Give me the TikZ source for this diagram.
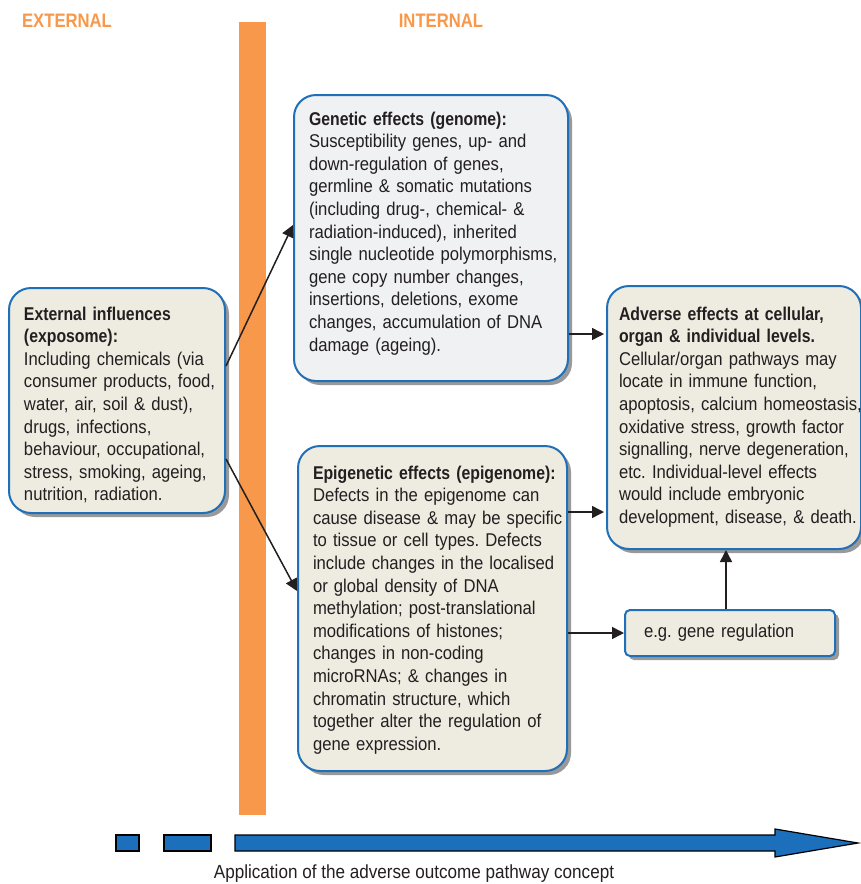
\documentclass[tikz,border=0pt]{standalone}
\usepackage{fontspec}
\setmainfont{Liberation Sans}[FakeStretch=0.9, BoldFeatures={FakeStretch=0.855}]
\usetikzlibrary{arrows.meta, positioning, shadows}

\definecolor{barorange}{HTML}{F7984A}
\definecolor{boxblue}{HTML}{1F70B8}
\definecolor{boxbeige}{HTML}{EEEBE1}
\definecolor{boxgrey}{HTML}{F0F1F3}
\definecolor{inkgrey}{HTML}{231F20}
\definecolor{pathblue}{HTML}{1C6FBA}

\tikzset{
  effectbox/.style={draw=boxblue, line width=2pt, rounded corners=22pt,
    fill=boxbeige, text=inkgrey, anchor=north west, align=left,
    inner xsep=0pt, inner ysep=0pt,
    font=\fontsize{18.5}{22.6}\selectfont,
    execute at begin node={\frenchspacing\leftskip=15pt\rightskip=-20pt plus 1fil\relax},
    drop shadow={shadow xshift=4pt, shadow yshift=-4pt, fill=black!40, opacity=1}},
  flow/.style={-{Triangle[length=12pt,width=12pt]}, line width=1.5pt, draw=inkgrey, fill=inkgrey},
  sidelabel/.style={text=barorange, font=\fontsize{19.5}{20}\bfseries\selectfont}
}

\begin{document}
\begin{tikzpicture}[x=1pt, y=-1pt]
\useasboundingbox (0,0) rectangle (861,884);

% Headings and the border between outside and inside
\node [sidelabel] (external) at (67,21) {EXTERNAL};
\node [sidelabel] (internal) at (441,21) {INTERNAL};
\fill [barorange] (239,22) rectangle (266,815);

% The boxes
\node [effectbox, text width=216pt, text height=32pt, text depth=193pt] (ext) at (8,287)
  {{\bfseries External influences\\(exposome):}\\
   Including chemicals (via\\consumer products, food,\\water, air, soil \& dust),\\
   drugs, infections,\\behaviour, occupational,\\stress, smoking, ageing,\\
   nutrition, radiation.};

\node [effectbox, fill=boxgrey, text width=274pt, text height=30pt, text depth=256pt] (gen) at (293,94)
  {{\bfseries Genetic effects (genome):}\\
   Susceptibility genes, up- and\\down-regulation of genes,\\
   germline \& somatic mutations\\(including drug-, chemical- \&\\
   radiation-induced), inherited\\single nucleotide polymorphisms,\\
   gene copy number changes,\\insertions, deletions, exome\\
   changes, accumulation of DNA\\damage (ageing).};

\node [effectbox, text width=269pt, text height=33pt, text depth=292pt] (epi) at (297,445)
  {{\bfseries Epigenetic effects (epigenome):}\\
   Defects in the epigenome can\\cause disease \& may be specific\\
   to tissue or cell types. Defects\\include changes in the localised\\
   or global density of DNA\\methylation; post-translational\\
   modifications of histones;\\changes in non-coding\\
   microRNAs; \& changes in\\chromatin structure, which\\
   together alter the regulation of\\gene expression.};

\node [effectbox, text width=254pt, text height=34pt, text depth=229pt,
  execute at begin node={\frenchspacing\leftskip=12pt\rightskip=-20pt plus 1fil\relax}] (adv) at (606,285)
  {{\bfseries Adverse effects at cellular,\\organ \& individual levels.}\\
   Cellular/organ pathways may\\locate in immune function,\\
   apoptosis, calcium homeostasis,\\oxidative stress, growth factor\\
   signalling, nerve degeneration,\\etc. Individual-level effects\\
   would include embryonic\\development, disease, \& death.};

\node [effectbox, rounded corners=5pt, text width=210pt, text height=27pt, text depth=19pt,
  execute at begin node={\leftskip=19pt\rightskip=0pt plus 1fil\relax}] (reg) at (624,609)
  {e.g. gene regulation};

% Connectors
\draw [flow] ([yshift=34.5pt]ext.east) -- ([yshift=13pt]gen.west);
\draw [flow] ([yshift=-58.5pt]ext.east) -- ([yshift=17.5pt]epi.west);
\coordinate (genout) at ([yshift=-96pt]gen.east);
\draw [flow, shorten >=2pt] (genout) -- (genout -| adv.west);
\coordinate (epiout) at ([yshift=96.5pt]epi.east);
\draw [flow, shorten >=2pt] (epiout) -- (epiout -| adv.west);
\draw [flow] (epi.east |- reg.west) -- (reg.west);
\draw [flow] ([xshift=-4pt]reg.north) -- ([xshift=-4pt]reg.north |- adv.south);

% Application of the pathway concept
\filldraw [fill=pathblue, draw=black, line width=1.2pt] (116,835) rectangle (139,851);
\filldraw [fill=pathblue, draw=black, line width=1.2pt] (164,835) rectangle (211,851);
\filldraw [fill=pathblue, draw=black, line width=1.2pt]
  (235,835) -- (775,835) -- (775,829) -- (858,843) -- (775,857) -- (775,851) -- (235,851) -- cycle;
\node [text=inkgrey, font=\fontsize{19}{20}\selectfont] (concept) at (414,874)
  {Application of the adverse outcome pathway concept};

\end{tikzpicture}
\end{document}
